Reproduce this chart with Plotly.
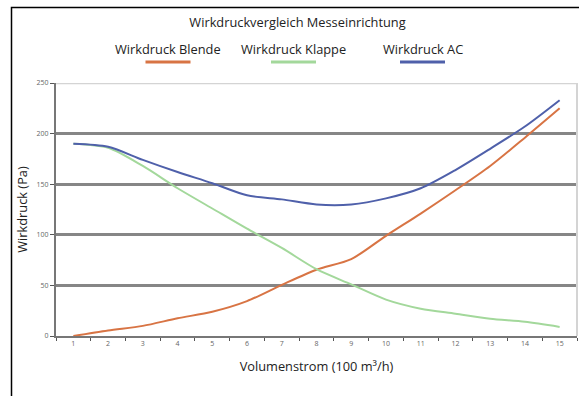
import plotly.graph_objects as go

volumenstrom = list(range(1, 16))
blende = [0, 5.5, 10, 17.5, 24, 34.5, 50.5, 65.5, 76, 99, 121, 144, 168, 196, 225]
klappe = [190, 186, 168, 146, 126, 106, 87, 66, 51, 36, 27, 22, 17, 14, 9]
ac = [190, 187, 174, 162, 151, 139, 135, 130, 130, 136, 146, 164, 185, 207, 233]
y_ticks = [0, 50, 100, 150, 200, 250]

series = [
    ("Wirkdruck Blende", blende, "#d87444"),
    ("Wirkdruck Klappe", klappe, "#a3d89b"),
    ("Wirkdruck AC", ac, "#4f60aa"),
]
FONT = "Open Sans"
FS = 12.8
L, R, T, B = 56, 2, 83, 60
PW, PH = 579 - L - R, 396 - T - B


def px_x(x):
    return (x - L) / PW


def px_y(y):
    return 1 - (y - T) / PH


fig = go.Figure()
for name, vals, col in series:
    fig.add_trace(go.Scatter(
        x=volumenstrom, y=vals, mode="lines", name=name,
        line=dict(color=col, width=2, shape="spline", smoothing=0.8),
    ))

fig.update_layout(
    width=579, height=396,
    margin=dict(l=L, r=R, t=T, b=B),
    paper_bgcolor="white", plot_bgcolor="white",
    showlegend=False,
    font=dict(family=FONT, color="#222222"),
    title=dict(text="Wirkdruckvergleich Messeinrichtung", x=297.5 / 579, xanchor="center",
               y=1 - 23 / 396, yanchor="middle", font=dict(size=FS, family=FONT, color="#222222")),
)

# Excel-style legend: text with a coloured line underneath
legend_x = [168, 293.5, 422.5]
for (name, vals, col), cx in zip(series, legend_x):
    fig.add_annotation(text=name, xref="paper", yref="paper",
                       x=px_x(cx), y=px_y(49),
                       showarrow=False, xanchor="center", yanchor="middle",
                       font=dict(size=FS, family=FONT, color="#222222"))
    fig.add_shape(type="line", xref="paper", yref="paper",
                  x0=px_x(cx - 22.5), x1=px_x(cx + 22.5), y0=px_y(62), y1=px_y(62),
                  line=dict(color=col, width=3))

# frame around the chart
fig.add_shape(type="rect", xref="paper", yref="paper",
              x0=px_x(11.5), x1=px_x(600), y0=px_y(420), y1=px_y(7.5),
              line=dict(color="black", width=1.5), layer="below")

fig.update_xaxes(
    range=[0.5, 15.5], tickvals=volumenstrom, ticks="",
    minor=dict(tick0=0.5, dtick=1, ticks="outside", ticklen=3, tickcolor="#555555", tickwidth=1),
    showgrid=False, zeroline=False,
    showline=True, linecolor="#777777", linewidth=2,
    tickfont=dict(size=7, color="#666666"),
    title=dict(text="Volumenstrom (100 m³/h)", standoff=15, font=dict(size=FS, color="#222222")),
)
fig.update_yaxes(
    range=[0, 250], tickvals=y_ticks, ticks="outside", ticklen=4, tickcolor="#555555",
    showgrid=True, gridcolor="#868686", gridwidth=2.5, zeroline=False,
    showline=True, linecolor="#777777", linewidth=2,
    tickfont=dict(size=7, color="#666666"),
    title=dict(text="Wirkdruck (Pa)", standoff=6, font=dict(size=FS, color="#222222")),
)

# top gridline and right edge of plot area are light grey
fig.add_shape(type="line", xref="paper", yref="y", x0=0, x1=1, y0=250, y1=250,
              line=dict(color="#d4d4d4", width=2.5))
fig.add_shape(type="line", xref="paper", yref="paper", x0=1, x1=1, y0=0, y1=1,
              line=dict(color="#d4d4d4", width=2))

fig.write_html("out.html", config={"displayModeBar": False},
               post_script="document.body.style.margin='0';")
